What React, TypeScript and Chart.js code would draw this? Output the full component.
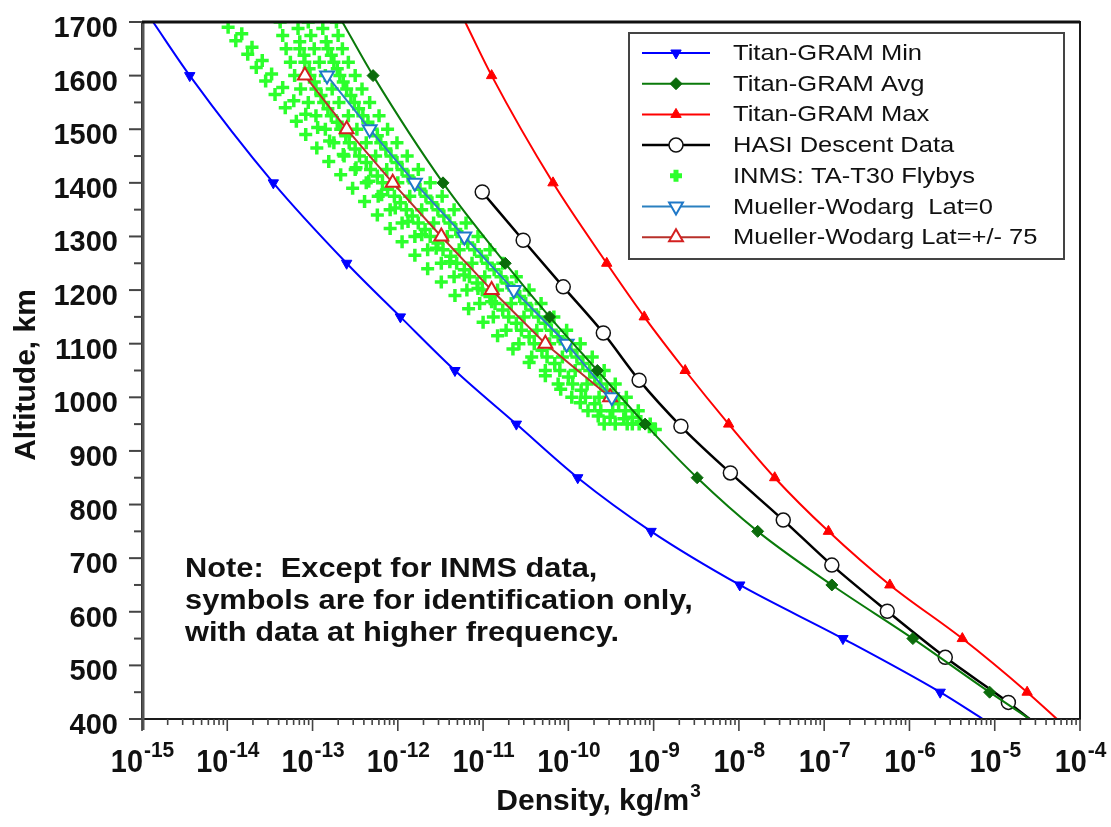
import React, { useEffect, useRef } from 'react';
import { Chart, registerables } from 'chart.js';
import { drawPoint } from 'chart.js/helpers';

Chart.register(...registerables);

// ---------- axis values ----------
const altitudeTicks = [400, 500, 600, 700, 800, 900, 1000, 1100, 1200, 1300, 1400, 1500, 1600, 1700];
const decadeExponents = [-15, -14, -13, -12, -11, -10, -9, -8, -7, -6, -5, -4];

// ---------- Titan-GRAM Min ----------
const minAlt = [1700, 1600, 1400, 1250, 1150, 1050, 950, 850, 750, 650, 550, 450, 400];
const minLogDensity = [-14.87, -14.44, -13.46, -12.60, -11.97, -11.33, -10.61, -9.89, -9.03, -7.99, -6.78, -5.64, -5.14];

// ---------- Titan-GRAM Avg ----------
const avgAlt = [1700, 1600, 1400, 1250, 1150, 1050, 950, 850, 750, 650, 550, 450, 400];
const avgLogDensity = [-12.65, -12.29, -11.47, -10.74, -10.22, -9.66, -9.10, -8.49, -7.78, -6.91, -5.96, -5.06, -4.59];

// ---------- Titan-GRAM Max ----------
const maxAlt = [1700, 1600, 1400, 1250, 1150, 1050, 950, 850, 750, 650, 550, 450, 400];
const maxLogDensity = [-11.21, -10.90, -10.18, -9.55, -9.11, -8.63, -8.12, -7.58, -6.95, -6.23, -5.38, -4.62, -4.27];

// ---------- HASI Descent Data ----------
const hasiAlt = [1383, 1293, 1206, 1120, 1032, 946, 859, 771, 687, 601, 515, 431, 400];
const hasiLogDensity = [-11.01, -10.53, -10.06, -9.59, -9.17, -8.68, -8.10, -7.48, -6.91, -6.26, -5.58, -4.84, -4.59];

// ---------- Mueller-Wodarg ----------
const mwAlt = [1600, 1500, 1400, 1300, 1200, 1100, 1000];
const mwLat0LogDensity = [-12.83, -12.33, -11.80, -11.22, -10.64, -10.02, -9.49];
const mwLat75LogDensity = [-13.09, -12.60, -12.06, -11.49, -10.90, -10.27, -9.51];

// ---------- INMS: TA-T30 flybys (several passes) ----------
const inmsAltGrid = [1700, 1675, 1650, 1625, 1600, 1575, 1550, 1525, 1500, 1475, 1450, 1425, 1400, 1375, 1350, 1325, 1300, 1275, 1250, 1225, 1200, 1175, 1150, 1125, 1100, 1075, 1050, 1025, 1000, 975, 950];
const inmsPassL = [-13.38, -13.35, -13.31, -13.26, -13.21, -13.14, -13.05, -12.96, -12.85, -12.75, -12.63, -12.50, -12.37, -12.23, -12.09, -11.95, -11.80, -11.65, -11.49, -11.34, -11.19, -11.04, -10.88, -10.73, -10.58, -10.43, -10.27, -10.12, -9.96, -9.77, -9.58];
const inmsPassC = [-13.05, -13.02, -12.98, -12.92, -12.85, -12.77, -12.69, -12.58, -12.48, -12.37, -12.26, -12.13, -12.00, -11.86, -11.72, -11.58, -11.42, -11.28, -11.13, -10.98, -10.83, -10.67, -10.52, -10.37, -10.22, -10.07, -9.92, -9.78, -9.64, -9.48, -9.31];
const inmsPassR = [-12.72, -12.70, -12.65, -12.58, -12.50, -12.42, -12.33, -12.22, -12.12, -12.01, -11.89, -11.76, -11.62, -11.48, -11.34, -11.20, -11.06, -10.92, -10.77, -10.61, -10.46, -10.32, -10.17, -10.02, -9.86, -9.72, -9.58, -9.45, -9.32, -9.18, -9.04];

const inmsAltStagger = [1688, 1663, 1638, 1613, 1588, 1563, 1538, 1513, 1488, 1463, 1438, 1413, 1388, 1363, 1338, 1313, 1288, 1263, 1238, 1213, 1188, 1163, 1138, 1113, 1088, 1063, 1038, 1013, 988, 963];
const inmsPassM1 = [-13.17, -13.15, -13.10, -13.04, -12.98, -12.90, -12.82, -12.71, -12.61, -12.50, -12.37, -12.24, -12.12, -11.97, -11.83, -11.68, -11.53, -11.38, -11.22, -11.07, -10.92, -10.77, -10.61, -10.46, -10.31, -10.16, -10.00, -9.85, -9.69, -9.51];
const inmsPassM2 = [-12.88, -12.84, -12.78, -12.71, -12.64, -12.55, -12.46, -12.35, -12.24, -12.14, -12.01, -11.88, -11.74, -11.60, -11.46, -11.32, -11.18, -11.02, -10.87, -10.72, -10.57, -10.43, -10.27, -10.12, -9.97, -9.83, -9.69, -9.55, -9.41, -9.25];

const inmsAltMid = [1650, 1625, 1600, 1575, 1550, 1525, 1500, 1475, 1450, 1425, 1400, 1375, 1350, 1325, 1300, 1275, 1250, 1225, 1200, 1175, 1150, 1125, 1100, 1075, 1050, 1025, 1000, 975, 950];
const inmsPassP6 = [-13.15, -13.09, -13.03, -12.96, -12.87, -12.78, -12.67, -12.57, -12.45, -12.32, -12.18, -12.04, -11.90, -11.76, -11.62, -11.47, -11.31, -11.16, -11.01, -10.86, -10.70, -10.55, -10.40, -10.25, -10.10, -9.95, -9.80, -9.62, -9.45];
const inmsPassP7 = [-12.82, -12.75, -12.68, -12.60, -12.51, -12.41, -12.30, -12.20, -12.08, -11.95, -11.81, -11.67, -11.53, -11.39, -11.25, -11.10, -10.95, -10.79, -10.64, -10.50, -10.35, -10.20, -10.04, -9.90, -9.75, -9.62, -9.48, -9.33, -9.17];

const inmsAltA = [1690, 1665, 1640, 1615, 1590, 1565, 1540, 1515, 1490, 1465, 1440, 1415, 1390, 1365, 1340, 1315, 1290, 1265, 1240, 1215, 1190, 1165, 1140, 1115, 1090, 1065, 1040, 1015, 990, 965];
const inmsPassA = [-13.99, -13.90, -13.76, -13.66, -13.55, -13.44, -13.32, -13.19, -13.08, -12.95, -12.81, -12.67, -12.53, -12.39, -12.24, -12.09, -11.95, -11.80, -11.65, -11.49, -11.33, -11.17, -11.00, -10.83, -10.65, -10.46, -10.27, -10.09, -9.86, -9.65];

const inmsAltA2 = [1678, 1653, 1628, 1603, 1578, 1553, 1528, 1503, 1478, 1453, 1428, 1403, 1378, 1353, 1328, 1303, 1278, 1253, 1228, 1203, 1178];
const inmsPassA2 = [-13.83, -13.71, -13.59, -13.48, -13.35, -13.22, -13.08, -12.94, -12.80, -12.64, -12.49, -12.34, -12.19, -12.03, -11.88, -11.72, -11.55, -11.39, -11.22, -11.06, -10.90];

const inmsAltTail = [960, 955, 950, 945, 940];
const inmsPassTail = [-9.35, -9.15, -9.25, -9.05, -8.98];

// ---------- labels ----------
const seriesNames = [
  'Titan-GRAM Min',
  'Titan-GRAM Avg',
  'Titan-GRAM Max',
  'HASI Descent Data',
  'INMS: TA-T30 Flybys',
  'Mueller-Wodarg  Lat=0',
  'Mueller-Wodarg Lat=+/- 75',
];
const noteLines = [
  'Note:  Except for INMS data,',
  'symbols are for identification only,',
  'with data at higher frequency.',
];
const xTitle = 'Density, kg/m';
const xTitleSup = '3';
const yTitle = 'Altitude, km';

// ---------- helpers ----------
const FONT = '"Liberation Sans", Arial, Helvetica, sans-serif';

function toPoints(alts: number[], logs: number[]) {
  return alts.map((a, i) => ({ x: Math.pow(10, logs[i]), y: a }));
}

function drawText(
  ctx: CanvasRenderingContext2D,
  text: string,
  x: number,
  y: number,
  font: string,
  sx: number,
  align: CanvasTextAlign = 'left',
  baseline: CanvasTextBaseline = 'alphabetic',
  color = '#111'
) {
  ctx.save();
  ctx.font = font;
  ctx.fillStyle = color;
  ctx.textAlign = align;
  ctx.textBaseline = baseline;
  ctx.translate(x, y);
  ctx.scale(sx, 1);
  ctx.fillText(text, 0, 0);
  ctx.restore();
}

function textWidth(ctx: CanvasRenderingContext2D, text: string, font: string, sx: number) {
  ctx.save();
  ctx.font = font;
  const w = ctx.measureText(text).width * sx;
  ctx.restore();
  return w;
}

const endsHidden = (r: number) => (c: any) => {
  const n = c.dataset.data.length;
  return c.dataIndex === 0 || c.dataIndex === n - 1 ? 0 : r;
};
const lastHidden = (r: number) => (c: any) => {
  const n = c.dataset.data.length;
  return c.dataIndex === n - 1 ? 0 : r;
};

const decorPlugin = {
  id: 'decor',
  afterDatasetsDraw(chart: any) {
    const { ctx, chartArea: ca, scales } = chart;
    const xs = scales.x;
    const ys = scales.y;
    ctx.save();
    // frame
    ctx.strokeStyle = '#1a1a1a';
    ctx.lineWidth = 2;
    ctx.strokeRect(ca.left, ca.top, ca.right - ca.left, ca.bottom - ca.top);
    ctx.strokeStyle = '#555';
    ctx.lineWidth = 3;
    ctx.beginPath();
    ctx.moveTo(ca.left + 1, ca.top);
    ctx.lineTo(ca.left + 1, ca.bottom + 11);
    ctx.stroke();
    ctx.strokeStyle = '#111';
    ctx.beginPath();
    ctx.moveTo(ca.left, ca.top);
    ctx.lineTo(ca.right, ca.top);
    ctx.stroke();

    // ticks
    ctx.strokeStyle = '#444';
    ctx.lineWidth = 2;
    for (let alt = 400; alt <= 1700; alt += 50) {
      const y = ys.getPixelForValue(alt);
      const len = alt % 100 === 0 ? 13 : 8;
      ctx.beginPath();
      ctx.moveTo(ca.left - len, y);
      ctx.lineTo(ca.left, y);
      ctx.stroke();
    }
    ctx.lineWidth = 1.6;
    decadeExponents.forEach((e) => {
      const x = xs.getPixelForValue(Math.pow(10, e));
      ctx.beginPath();
      ctx.moveTo(x, ca.bottom);
      ctx.lineTo(x, ca.bottom + 12);
      ctx.stroke();
      if (e < -4) {
        for (let m = 2; m <= 9; m++) {
          const xm = xs.getPixelForValue(m * Math.pow(10, e));
          ctx.beginPath();
          ctx.moveTo(xm, ca.bottom);
          ctx.lineTo(xm, ca.bottom + 6);
          ctx.stroke();
        }
      }
    });

    // y tick labels
    const yTickFont = `bold 29px ${FONT}`;
    altitudeTicks.forEach((alt) => {
      drawText(ctx, String(alt), ca.left - 24, ys.getPixelForValue(alt) + 15, yTickFont, 1.0, 'right');
    });
    // x tick labels
    const xTickFont = `bold 31px ${FONT}`;
    const expFont = `bold 22px ${FONT}`;
    decadeExponents.forEach((e) => {
      const x = xs.getPixelForValue(Math.pow(10, e));
      const base = '10';
      const exp = '-' + Math.abs(e);
      const wb = textWidth(ctx, base, xTickFont, 0.93);
      const we = textWidth(ctx, exp, expFont, 0.95);
      const start = x - (wb + we) / 2;
      drawText(ctx, base, start, ca.bottom + 53, xTickFont, 0.93);
      drawText(ctx, exp, start + wb + 1, ca.bottom + 38, expFont, 0.95);
    });

    // x title
    {
      const tFont = `bold 30px ${FONT}`;
      const sFont = `bold 19px ${FONT}`;
      const wb = textWidth(ctx, xTitle, tFont, 1.0);
      const we = textWidth(ctx, xTitleSup, sFont, 1.0);
      const cx = 598;
      const start = cx - (wb + we) / 2;
      drawText(ctx, xTitle, start, ca.bottom + 91, tFont, 1.0);
      drawText(ctx, xTitleSup, start + wb + 1, ca.bottom + 78, sFont, 1.0);
    }
    // y title (rotated)
    {
      ctx.save();
      ctx.translate(27, 375);
      ctx.rotate(-Math.PI / 2);
      ctx.font = `bold 30px ${FONT}`;
      ctx.fillStyle = '#111';
      ctx.textAlign = 'center';
      ctx.textBaseline = 'middle';
      ctx.fillText(yTitle, 0, 0);
      ctx.restore();
    }
    ctx.restore();
  },
  afterDraw(chart: any) {
    const { ctx } = chart;
    ctx.save();
    // note
    const noteFont = `bold 28px ${FONT}`;
    noteLines.forEach((line, i) => {
      drawText(ctx, line, 185, 577 + i * 32, noteFont, 1.1);
    });

    // legend
    const lx = 629, ly = 33, lw = 435, lh = 226;
    ctx.fillStyle = '#fff';
    ctx.fillRect(lx, ly, lw, lh);
    ctx.strokeStyle = '#444';
    ctx.lineWidth = 2;
    ctx.strokeRect(lx, ly, lw, lh);
    const legFont = `22px ${FONT}`;
    chart.data.datasets.forEach((ds: any, i: number) => {
      const y = ly + 20 + i * 30.7;
      if (ds.showLine !== false) {
        ctx.strokeStyle = ds.borderColor;
        ctx.lineWidth = ds.borderWidth;
        ctx.beginPath();
        ctx.moveTo(lx + 13, y);
        ctx.lineTo(lx + 81, y);
        ctx.stroke();
      }
      const lm = ds.legendMarker;
      ctx.fillStyle = ds.pointBackgroundColor;
      ctx.strokeStyle = ds.pointBorderColor;
      ctx.lineWidth = lm.borderWidth;
      drawPoint(ctx, { pointStyle: ds.pointStyle, rotation: ds.rotation || 0, radius: lm.radius, borderWidth: lm.borderWidth } as any, lx + 47, y);
      drawText(ctx, ds.label, lx + 104, y + 1, legFont, 1.16, 'left', 'middle', '#111');
    });
    ctx.restore();
  },
};

export default function App() {
  const ref = useRef<HTMLCanvasElement>(null);

  useEffect(() => {
    const inmsPoints = [
      ...toPoints(inmsAltGrid, inmsPassL),
      ...toPoints(inmsAltStagger, inmsPassM1),
      ...toPoints(inmsAltGrid, inmsPassC),
      ...toPoints(inmsAltStagger, inmsPassM2),
      ...toPoints(inmsAltGrid, inmsPassR),
      ...toPoints(inmsAltMid, inmsPassP6),
      ...toPoints(inmsAltMid, inmsPassP7),
      ...toPoints(inmsAltA, inmsPassA),
      ...toPoints(inmsAltA2, inmsPassA2),
      ...toPoints(inmsAltTail, inmsPassTail),
    ];

    const datasets: any[] = [
      {
        label: seriesNames[0],
        data: toPoints(minAlt, minLogDensity),
        showLine: true,
        borderColor: '#0000ff',
        borderWidth: 2,
        pointStyle: 'triangle',
        rotation: 180,
        pointRadius: endsHidden(6),
        pointBackgroundColor: '#0000ff',
        pointBorderColor: '#0000ff',
        pointBorderWidth: 1,
        cubicInterpolationMode: 'monotone',
        legendMarker: { radius: 6, borderWidth: 1 },
        order: 0,
      },
      {
        label: seriesNames[1],
        data: toPoints(avgAlt, avgLogDensity),
        showLine: true,
        borderColor: '#0a7a0a',
        borderWidth: 2,
        pointStyle: 'rectRot',
        pointRadius: endsHidden(6),
        pointBackgroundColor: '#0b6b0b',
        pointBorderColor: '#0b6b0b',
        pointBorderWidth: 1,
        cubicInterpolationMode: 'monotone',
        legendMarker: { radius: 6, borderWidth: 1 },
        order: 0,
      },
      {
        label: seriesNames[2],
        data: toPoints(maxAlt, maxLogDensity),
        showLine: true,
        borderColor: '#ff0000',
        borderWidth: 2,
        pointStyle: 'triangle',
        pointRadius: endsHidden(6),
        pointBackgroundColor: '#ff0000',
        pointBorderColor: '#ff0000',
        pointBorderWidth: 1,
        cubicInterpolationMode: 'monotone',
        legendMarker: { radius: 6, borderWidth: 1 },
        order: 0,
      },
      {
        label: seriesNames[3],
        data: toPoints(hasiAlt, hasiLogDensity),
        showLine: true,
        borderColor: '#000000',
        borderWidth: 2.5,
        pointStyle: 'circle',
        pointRadius: lastHidden(7),
        pointBackgroundColor: '#ffffff',
        pointBorderColor: '#111111',
        pointBorderWidth: 1.5,
        cubicInterpolationMode: 'monotone',
        legendMarker: { radius: 7, borderWidth: 1.5 },
        order: 0,
      },
      {
        label: seriesNames[4],
        data: inmsPoints,
        showLine: false,
        borderColor: '#2cff2c',
        pointStyle: 'cross',
        pointRadius: 6.5,
        pointBackgroundColor: '#2cff2c',
        pointBorderColor: '#2cff2c',
        pointBorderWidth: 3.5,
        legendMarker: { radius: 6, borderWidth: 5 },
        order: 5,
      },
      {
        label: seriesNames[5],
        data: toPoints(mwAlt, mwLat0LogDensity),
        showLine: true,
        borderColor: '#2a80c0',
        borderWidth: 2,
        pointStyle: 'triangle',
        rotation: 180,
        pointRadius: 8,
        pointBackgroundColor: '#ffffff',
        pointBorderColor: '#1f78c8',
        pointBorderWidth: 2,
        tension: 0,
        legendMarker: { radius: 8, borderWidth: 2 },
        order: 0,
      },
      {
        label: seriesNames[6],
        data: toPoints(mwAlt, mwLat75LogDensity),
        showLine: true,
        borderColor: '#b8302a',
        borderWidth: 2,
        pointStyle: 'triangle',
        pointRadius: 8,
        pointBackgroundColor: '#ffffff',
        pointBorderColor: '#d42020',
        pointBorderWidth: 2,
        tension: 0,
        legendMarker: { radius: 8, borderWidth: 2 },
        order: 0,
      },
    ];

    const chart = new Chart(ref.current as HTMLCanvasElement, {
      type: 'scatter',
      data: { datasets },
      options: {
        responsive: false,
        animation: false,
        devicePixelRatio: 1,
        events: [],
        layout: { padding: { left: 142, right: 31, top: 22, bottom: 108 } },
        scales: {
          x: { type: 'logarithmic', min: 1e-15, max: 1e-4, display: false },
          y: { type: 'linear', min: 400, max: 1700, display: false },
        },
        plugins: {
          legend: { display: false },
          tooltip: { enabled: false },
        },
      },
      plugins: [decorPlugin],
    } as any);

    return () => chart.destroy();
  }, []);

  return (
    <div style={{ position: 'fixed', left: 0, top: 0, width: 1111, height: 827, background: '#ffffff' }}>
      <canvas ref={ref} width={1111} height={827} style={{ display: 'block', width: 1111, height: 827 }} />
    </div>
  );
}
